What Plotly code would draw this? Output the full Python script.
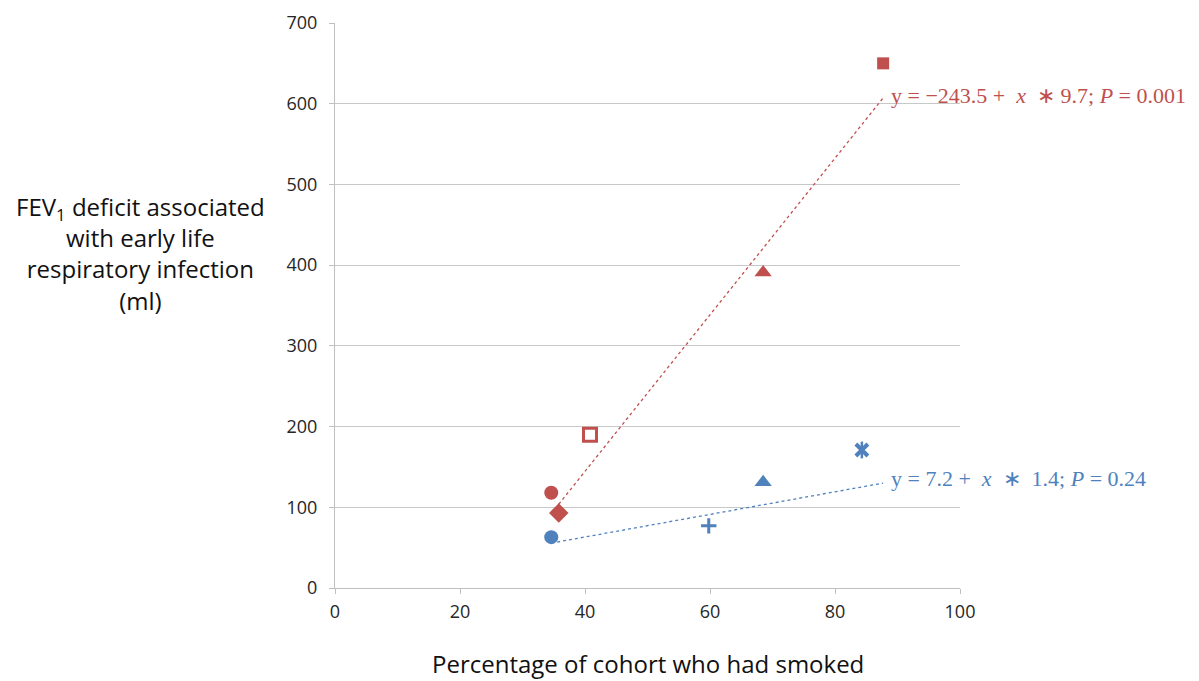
import plotly.graph_objects as go

# Data
red_x = [34.6, 35.8, 40.8, 68.5, 87.7]
red_y = [118, 93, 190, 391, 650]
red_symbols = ["circle", "diamond", "square-open", "triangle-up", "square"]

blue_x = [34.6, 59.8, 68.5, 84.3]
blue_y = [63, 77, 131, 171]
blue_symbols = ["circle", "cross-thin-open", "triangle-up", "x-thin-open"]

red_fit = {"intercept": -243.5, "slope": 9.7, "x_range": [35.8, 87.7]}
blue_fit = {"intercept": 7.2, "slope": 1.4, "x_range": [34.6, 87.7]}

red_label = "y = −243.5 +  <i>x</i>  ∗ 9.7; <i>P</i> = 0.001"
blue_label = "y = 7.2 +  <i>x</i>  ∗  1.4; <i>P</i> = 0.24"

x_ticks = [0, 20, 40, 60, 80, 100]
y_ticks = [0, 100, 200, 300, 400, 500, 600, 700]

RED = "#C0504D"
BLUE = "#4F81BD"

fig = go.Figure()

def fit_line(fit):
    xs = fit["x_range"]
    return xs, [fit["intercept"] + fit["slope"] * v for v in xs]

rx, ry = fit_line(red_fit)
bx, by = fit_line(blue_fit)
fig.add_trace(go.Scatter(x=rx, y=ry, mode="lines",
                         line=dict(color=RED, width=1.3, dash="dot"), hoverinfo="skip"))
fig.add_trace(go.Scatter(x=bx, y=by, mode="lines",
                         line=dict(color=BLUE, width=1.3, dash="dot"), hoverinfo="skip"))

red_sizes = [14, 15, 13, 15, 12]
red_lw = [0, 0, 3, 0, 0]
fig.add_trace(go.Scatter(
    x=red_x, y=red_y, mode="markers",
    marker=dict(symbol=red_symbols, size=red_sizes, color=RED, opacity=1,
                line=dict(color=RED, width=red_lw))))

blue_sizes = [14, 11, 15, 12]
blue_lw = [0, 3, 0, 4]
fig.add_trace(go.Scatter(
    x=blue_x, y=blue_y, mode="markers",
    marker=dict(symbol=blue_symbols, size=blue_sizes, color=BLUE, opacity=1,
                line=dict(color=BLUE, width=blue_lw))))
# vertical bar of the star marker
fig.add_trace(go.Scatter(
    x=blue_x[3:], y=blue_y[3:], mode="markers",
    marker=dict(symbol="line-ns-open", size=12, color=BLUE, opacity=1,
                line=dict(color=BLUE, width=2.5))))

fig.add_annotation(x=red_fit["x_range"][1], y=red_fit["intercept"] + red_fit["slope"] * red_fit["x_range"][1],
                   text=red_label, showarrow=False, xanchor="left", yanchor="middle",
                   xshift=6, yshift=2,
                   font=dict(family="Liberation Serif", size=22, color=RED))
fig.add_annotation(x=blue_fit["x_range"][1], y=blue_fit["intercept"] + blue_fit["slope"] * blue_fit["x_range"][1],
                   text=blue_label, showarrow=False, xanchor="left", yanchor="middle",
                   xshift=6, yshift=5,
                   font=dict(family="Liberation Serif", size=22, color=BLUE))

fig.add_annotation(xref="paper", yref="paper", x=-0.312, y=0.592,
                   text="FEV<sub>1</sub> deficit associated<br>with early life<br>respiratory infection<br>(ml)",
                   showarrow=False, xanchor="center", yanchor="middle", align="center",
                   font=dict(family="Open Sans", size=24, color="#111111"))

fig.add_annotation(xref="paper", yref="paper", x=0.5, y=-0.134,
                   text="Percentage of cohort who had smoked",
                   showarrow=False, xanchor="center", yanchor="middle",
                   font=dict(family="Open Sans", size=24, color="#111111"))

fig.update_layout(
    width=1191, height=673,
    margin=dict(l=327, r=239, t=15, b=93),
    paper_bgcolor="white", plot_bgcolor="white",
    showlegend=False,
    font=dict(family="Open Sans", size=18, color="#262626"),
    xaxis=dict(range=[0, 100], tickvals=x_ticks, showgrid=False, zeroline=False,
               showline=True, linecolor="#BFBFBF", linewidth=1, automargin=False,
               ticks="outside", ticklen=5, tickcolor="#BFBFBF", ticklabelstandoff=2),
    yaxis=dict(range=[0, 700], tickvals=y_ticks, showgrid=True, gridcolor="#C8C8C8", gridwidth=1,
               zeroline=False, showline=True, linecolor="#BFBFBF", linewidth=1, automargin=False,
               ticks="outside", ticklen=5, tickcolor="#BFBFBF", ticklabelstandoff=8),
)

fig.write_html("out.html")
